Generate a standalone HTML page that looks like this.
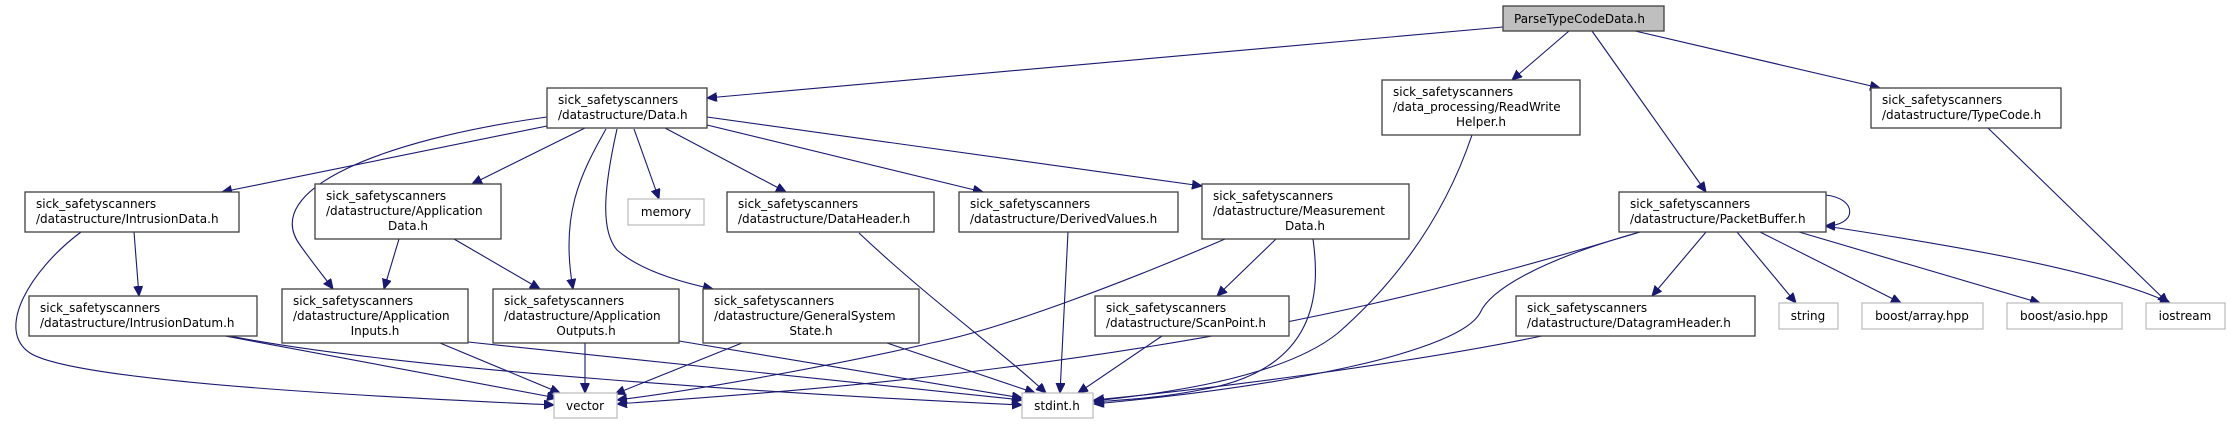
<!DOCTYPE html>
<html><head><meta charset="utf-8"><style>
html,body{margin:0;padding:0;background:#fff;}
svg{display:block;}
text{font-family:"DejaVu Sans","Liberation Sans",sans-serif;font-size:12px;fill:#000;}
.n{fill:#fff;stroke:#404040;stroke-width:1.3;}
.g{fill:#fff;stroke:#bfbfbf;stroke-width:1.3;}
.e{fill:none;stroke:#191970;stroke-width:1.1;}
</style></head><body>
<svg width="2233" height="424" viewBox="0 0 2233 424" xmlns="http://www.w3.org/2000/svg">
<defs>
<marker id="a" markerUnits="userSpaceOnUse" markerWidth="12" markerHeight="10" refX="10" refY="4.5" orient="auto">
<path d="M0,0 L10,4.5 L0,9 z" fill="#191970" stroke="#191970"/>
</marker>
</defs>
<g marker-end="url(#a)">
<!-- ParseTypeCodeData -->
<path class="e" d="M1503,27 L707,98"/>
<path class="e" d="M1569,31 L1512,80"/>
<path class="e" d="M1592,31 L1706,192"/>
<path class="e" d="M1635,31 L1880,88"/>
<!-- Data.h -->
<path class="e" d="M547,126 L222,192"/>
<path class="e" d="M547,117 C380,140 260,190 300,245 C315,266 325,278 333,289"/>
<path class="e" d="M585,128 L472,184"/>
<path class="e" d="M606,129 C580,175 560,215 573,289"/>
<path class="e" d="M634,129 L659,199"/>
<path class="e" d="M617,129 C604,187 600,230 617,250 C640,270 680,282 713,289"/>
<path class="e" d="M665,128 L786,192"/>
<path class="e" d="M707,125 L983,192"/>
<path class="e" d="M707,117 L1202,186"/>
<!-- IntrusionData -->
<path class="e" d="M134,232 L139,296"/>
<path class="e" d="M81,232 C30,270 -5,330 30,353 C80,385 450,400 554,405"/>
<!-- ApplicationData -->
<path class="e" d="M399,239 L384,289"/>
<path class="e" d="M454,239 L540,289"/>
<!-- IntrusionDatum -->
<path class="e" d="M225,336 L557,398"/>
<path class="e" d="M230,336 C400,370 800,395 1022,405"/>
<!-- ApplicationInputs -->
<path class="e" d="M440,343 L560,393"/>
<path class="e" d="M468,342 L1022,400"/>
<!-- ApplicationOutputs -->
<path class="e" d="M585,343 L585,393"/>
<path class="e" d="M679,341 L1022,398"/>
<!-- GeneralSystemState -->
<path class="e" d="M742,343 L615,394"/>
<path class="e" d="M887,343 L1035,393"/>
<!-- DataHeader, DerivedValues -->
<path class="e" d="M859,233 C930,300 1000,350 1046,393"/>
<path class="e" d="M1068,232 L1060,393"/>
<!-- MeasurementData -->
<path class="e" d="M1225,239 C1130,280 1000,330 931,343 C850,362 700,390 617,400"/>
<path class="e" d="M1276,239 L1217,296"/>
<path class="e" d="M1313,239 C1320,290 1320,370 1200,390 C1160,398 1120,400 1094,402"/>
<path class="e" d="M1162,336 L1078,393"/>
<!-- ReadWriteHelper -->
<path class="e" d="M1472,135 C1450,200 1410,270 1338,333 C1280,380 1150,395 1094,401"/>
<!-- PacketBuffer -->
<path class="e" d="M1640,232 C1480,280 1300,330 1000,368 C850,388 700,398 617,404"/>
<path class="e" d="M1640,232 C1540,260 1490,290 1480,313 C1460,350 1300,385 1094,404"/>
<path class="e" d="M1706,232 L1652,296"/>
<path class="e" d="M1737,232 L1796,303"/>
<path class="e" d="M1760,232 L1901,303"/>
<path class="e" d="M1799,232 L2040,303"/>
<path class="e" d="M1825,226 C1950,245 2100,270 2170,303"/>
<path class="e" d="M1825,195 C1858,198 1858,226 1825,226"/>
<!-- DatagramHeader -->
<path class="e" d="M1542,336 C1400,365 1200,390 1094,400"/>
<!-- TypeCode -->
<path class="e" d="M1988,128 L2168,303"/>
</g>

<!-- Nodes -->
<rect x="1503" y="6" width="161" height="25" fill="#bfbfbf" stroke="#404040" stroke-width="1.3"/>
<text x="1514" y="23">ParseTypeCodeData.h</text>

<rect class="n" x="547" y="88" width="160" height="40"/>
<text x="558" y="104">sick_safetyscanners</text><text x="558" y="119">/datastructure/Data.h</text>

<rect class="n" x="1382" y="80" width="198" height="55"/>
<text x="1393" y="96">sick_safetyscanners</text><text x="1393" y="111">/data_processing/ReadWrite</text><text x="1481" y="126" text-anchor="middle">Helper.h</text>

<rect class="n" x="1871" y="88" width="190" height="40"/>
<text x="1882" y="104">sick_safetyscanners</text><text x="1882" y="119">/datastructure/TypeCode.h</text>

<rect class="n" x="25" y="192" width="214" height="40"/>
<text x="36" y="208">sick_safetyscanners</text><text x="36" y="223">/datastructure/IntrusionData.h</text>

<rect class="n" x="315" y="184" width="186" height="55"/>
<text x="326" y="200">sick_safetyscanners</text><text x="326" y="215">/datastructure/Application</text><text x="408" y="230" text-anchor="middle">Data.h</text>

<rect class="g" x="628" y="199" width="76" height="26"/>
<text x="666" y="216" text-anchor="middle">memory</text>

<rect class="n" x="727" y="192" width="207" height="40"/>
<text x="738" y="208">sick_safetyscanners</text><text x="738" y="223">/datastructure/DataHeader.h</text>

<rect class="n" x="959" y="192" width="219" height="40"/>
<text x="970" y="208">sick_safetyscanners</text><text x="970" y="223">/datastructure/DerivedValues.h</text>

<rect class="n" x="1202" y="184" width="207" height="55"/>
<text x="1213" y="200">sick_safetyscanners</text><text x="1213" y="215">/datastructure/Measurement</text><text x="1305" y="230" text-anchor="middle">Data.h</text>

<rect class="n" x="1619" y="192" width="207" height="40"/>
<text x="1630" y="208">sick_safetyscanners</text><text x="1630" y="223">/datastructure/PacketBuffer.h</text>

<rect class="n" x="29" y="296" width="228" height="40"/>
<text x="40" y="312">sick_safetyscanners</text><text x="40" y="327">/datastructure/IntrusionDatum.h</text>

<rect class="n" x="282" y="289" width="186" height="54"/>
<text x="293" y="305">sick_safetyscanners</text><text x="293" y="320">/datastructure/Application</text><text x="375" y="335" text-anchor="middle">Inputs.h</text>

<rect class="n" x="493" y="289" width="186" height="54"/>
<text x="504" y="305">sick_safetyscanners</text><text x="504" y="320">/datastructure/Application</text><text x="586" y="335" text-anchor="middle">Outputs.h</text>

<rect class="n" x="703" y="289" width="216" height="54"/>
<text x="714" y="305">sick_safetyscanners</text><text x="714" y="320">/datastructure/GeneralSystem</text><text x="811" y="335" text-anchor="middle">State.h</text>

<rect class="n" x="1095" y="296" width="194" height="40"/>
<text x="1106" y="312">sick_safetyscanners</text><text x="1106" y="327">/datastructure/ScanPoint.h</text>

<rect class="n" x="1516" y="296" width="239" height="40"/>
<text x="1527" y="312">sick_safetyscanners</text><text x="1527" y="327">/datastructure/DatagramHeader.h</text>

<rect class="g" x="1779" y="303" width="59" height="26"/>
<text x="1808" y="320" text-anchor="middle">string</text>
<rect class="g" x="1862" y="303" width="121" height="26"/>
<text x="1922" y="320" text-anchor="middle">boost/array.hpp</text>
<rect class="g" x="2007" y="303" width="115" height="26"/>
<text x="2064" y="320" text-anchor="middle">boost/asio.hpp</text>
<rect class="g" x="2146" y="303" width="79" height="26"/>
<text x="2185" y="320" text-anchor="middle">iostream</text>

<rect class="g" x="554" y="393" width="63" height="25"/>
<text x="585" y="410" text-anchor="middle">vector</text>
<rect class="g" x="1022" y="393" width="71" height="25"/>
<text x="1057" y="410" text-anchor="middle">stdint.h</text>
</svg>
</body></html>
